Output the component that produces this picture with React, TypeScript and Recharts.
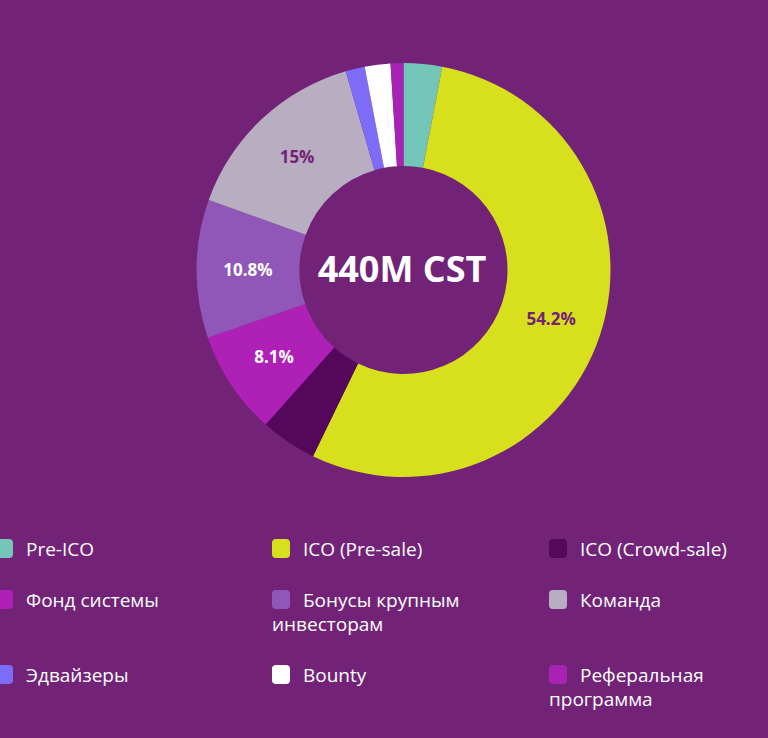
import { PieChart, Pie, Cell } from "recharts";

const names = [
  "Pre-ICO",
  "ICO (Pre-sale)",
  "ICO (Crowd-sale)",
  "Фонд системы",
  "Бонусы крупным инвесторам",
  "Команда",
  "Эдвайзеры",
  "Bounty",
  "Реферальная программа",
];
const shares = [3, 54.2, 4.4, 8.1, 10.8, 15, 1.5, 2, 1];
const shownLabels = ["", "54.2%", "", "8.1%", "10.8%", "15%", "", "", ""];
const colors = [
  "#73c5b7",
  "#d8df1c",
  "#55075c",
  "#ae20b6",
  "#9057b8",
  "#b9adc1",
  "#7d6cf8",
  "#ffffff",
  "#a822b3",
];
const totalLabel = "440M CST";

const BG = "#722378";
const darkOn = ["ICO (Pre-sale)", "Команда"];

const data = names.map((name, i) => ({ name, value: shares[i], label: shownLabels[i] }));

const RADIAN = Math.PI / 180;

const renderLabel = (props: any) => {
  const { cx, cy, midAngle, innerRadius, outerRadius, payload, name } = props;
  const text = payload?.label ?? "";
  if (!text) return null;
  const r = (innerRadius + outerRadius) / 2;
  const x = cx + r * Math.cos(-midAngle * RADIAN);
  const y = cy + r * Math.sin(-midAngle * RADIAN);
  return (
    <text
      x={x}
      y={y}
      fill={darkOn.includes(name) ? BG : "#ffffff"}
      textAnchor="middle"
      dominantBaseline="central"
      fontFamily="'Open Sans', sans-serif"
      fontWeight={700}
      fontSize={17}
    >
      {text}
    </text>
  );
};

export default function App() {
  return (
    <div
      style={{
        position: "fixed",
        left: 0,
        top: 0,
        width: 768,
        height: 738,
        background: BG,
        overflow: "hidden",
        fontFamily: "'Open Sans', sans-serif",
      }}
    >
      <PieChart width={768} height={500}>
        <Pie
          data={data}
          dataKey="value"
          nameKey="name"
          cx={398.5}
          cy={265}
          innerRadius={104}
          outerRadius={207}
          startAngle={90}
          endAngle={-270}
          stroke="none"
          label={renderLabel}
          labelLine={false}
          isAnimationActive={false}
        >
          {data.map((d, i) => (
            <Cell key={d.name} fill={colors[i]} />
          ))}
        </Pie>
        <text
          x={402}
          y={268}
          textAnchor="middle"
          dominantBaseline="central"
          fill="#ffffff"
          fontFamily="'Open Sans', sans-serif"
          fontWeight={700}
          fontSize={36}
        >
          {totalLabel}
        </text>
      </PieChart>
      <div
        style={{
          position: "absolute",
          left: -5,
          top: 537,
          width: 840,
          display: "flex",
          flexWrap: "wrap",
          rowGap: 27,
        }}
      >
        {names.map((n, i) => (
          <div
            key={n}
            style={{
              width: 277,
              boxSizing: "border-box",
              paddingRight: 40,
              color: "#ffffff",
              fontSize: 19,
              lineHeight: "24px",
            }}
          >
            <span
              style={{
                display: "inline-block",
                width: 18,
                height: 19,
                borderRadius: 4,
                background: colors[i],
                marginRight: 13,
                verticalAlign: "-2px",
              }}
            />
            {n}
          </div>
        ))}
      </div>
    </div>
  );
}
